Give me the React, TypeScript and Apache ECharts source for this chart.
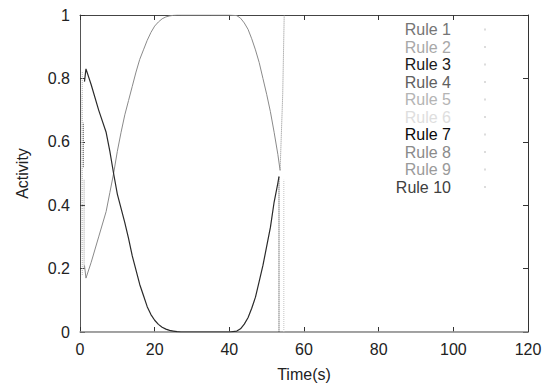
import React, { useEffect, useRef } from "react";
import * as echarts from "echarts";

const ruleNames = ["Rule 1", "Rule 2", "Rule 3", "Rule 4", "Rule 5", "Rule 6", "Rule 7", "Rule 8", "Rule 9", "Rule 10"];
const ruleColors = ["#757575", "#a8a8a8", "#1a1a1a", "#606060", "#b4b4b4", "#dedede", "#0a0a0a", "#8a8a8a", "#9a9a9a", "#404040"];

const xTicks = [0, 20, 40, 60, 80, 100, 120];
const yTicks = [0, 0.2, 0.4, 0.6, 0.8, 1];

// main simulation time points
const tMain = [1.2, 1.6, 3, 5, 7, 8, 9, 10, 11, 12, 13, 14, 15, 16, 17, 18, 19, 20, 21, 22, 23, 24, 25, 26, 27, 30, 35, 40, 42, 43, 44, 45, 46, 47, 48, 49, 50, 51, 52, 53];

// Rule 1: rising, saturated, then falling
const rule1Time = [...tMain, 53.6];
const rule1Vals = [0.21, 0.17, 0.22, 0.3, 0.38, 0.44, 0.5, 0.57, 0.63, 0.685, 0.73, 0.775, 0.82, 0.86, 0.89, 0.92, 0.945, 0.965, 0.978, 0.988, 0.994, 0.997, 0.999, 1, 1, 1, 1, 1, 0.998, 0.99, 0.975, 0.955, 0.925, 0.89, 0.85, 0.8, 0.75, 0.695, 0.63, 0.56, 0.51];

// Rule 3: falling, zero, then rising
const rule3Time = [...tMain, 53.3];
const rule3Vals = [0.79, 0.83, 0.78, 0.7, 0.63, 0.57, 0.5, 0.435, 0.39, 0.345, 0.295, 0.24, 0.195, 0.15, 0.115, 0.08, 0.055, 0.037, 0.024, 0.015, 0.009, 0.005, 0.003, 0.001, 0, 0, 0, 0, 0.003, 0.01, 0.025, 0.045, 0.075, 0.11, 0.16, 0.21, 0.27, 0.33, 0.41, 0.47, 0.49];

// short transients of the other rules
const rule2Time = [0.6, 0.6];
const rule2Vals = [0.18, 0.82];
const rule4Time = [0.9, 0.9];
const rule4Vals = [0.52, 0.66];
const rule5Time = [54.6, 54.6];
const rule5Vals = [0, 0.48];
const rule6Time = [0.4, 0.4];
const rule6Vals = [0.25, 0.75];
const rule7Time = [53.3, 53.3];
const rule7Vals = [0.49, 0];
const rule8Time = [53.6, 54.3, 54.7];
const rule8Vals = [0.51, 0.75, 1];
const rule9Time = [0, 120];
const rule9Vals = [0, 0];
const rule10Time = [1.1, 1.1];
const rule10Vals = [0.2, 0.48];

const ruleTimes = [rule1Time, rule2Time, rule3Time, rule4Time, rule5Time, rule6Time, rule7Time, rule8Time, rule9Time, rule10Time];
const ruleVals = [rule1Vals, rule2Vals, rule3Vals, rule4Vals, rule5Vals, rule6Vals, rule7Vals, rule8Vals, rule9Vals, rule10Vals];
const lineColors = ["#8a8a8a", "#b0b0b0", "#2a2a2a", "#555555", "#c4c4c4", "#d8d8d8", "#333333", "#8a8a8a", "#9a9a9a", "#999999"];
const lineWidths = [1, 1, 1.2, 1, 1, 1, 1, 1, 1.5, 1];
const lineTypes = ["solid", "dotted", "solid", "dotted", "dotted", "dotted", "dotted", "dotted", "solid", "dotted"];

const FONT = "'Liberation Sans', Arial, sans-serif";

export default function App() {
  const ref = useRef<HTMLDivElement>(null);
  useEffect(() => {
    if (!ref.current) return;
    const chart = echarts.init(ref.current, null, { renderer: "svg" });
    const axisCommon = {
      min: 0,
      axisTick: { show: true, inside: true, length: 5, lineStyle: { color: "#333" } },
      splitLine: { show: false },
    };
    chart.setOption({
      animation: false,
      backgroundColor: "#fff",
      textStyle: { fontFamily: FONT },
      grid: { left: 80, right: 18, top: 15, bottom: 54 },
      legend: {
        orient: "vertical",
        right: 60,
        top: 21.5,
        padding: 0,
        align: "right",
        itemGap: 1.5,
        itemWidth: 2,
        itemHeight: 2,
        icon: "rect",
        selectedMode: false,
        textStyle: { fontSize: 16, lineHeight: 15, fontFamily: FONT, padding: [0, 28, 0, 0] },
        data: ruleNames.map((n, i) => ({
          name: n,
          textStyle: { color: ruleColors[i] },
          itemStyle: { color: "#dcdcdc" },
        })),
      },
      xAxis: [
        {
          ...axisCommon,
          type: "value",
          max: 120,
          interval: 20,
          position: "bottom",
          name: "Time(s)",
          nameLocation: "middle",
          nameGap: 34,
          nameTextStyle: { fontSize: 16, color: "#222", fontFamily: FONT },
          axisLine: { show: true, onZero: false, lineStyle: { color: "#999", width: 1.5 } },
          axisLabel: { fontSize: 16, color: "#222", margin: 9, fontFamily: FONT, formatter: (v: number) => (xTicks.includes(v) ? String(v) : "") },
        },
        {
          ...axisCommon,
          type: "value",
          max: 120,
          interval: 20,
          position: "top",
          axisLine: { show: true, onZero: false, lineStyle: { color: "#444", width: 1 } },
          axisLabel: { show: false },
        },
      ],
      yAxis: [
        {
          ...axisCommon,
          type: "value",
          max: 1,
          interval: 0.2,
          position: "left",
          name: "Activity",
          nameLocation: "middle",
          nameGap: 50,
          nameRotate: 90,
          nameTextStyle: { fontSize: 16, color: "#222", fontFamily: FONT },
          axisLine: { show: true, onZero: false, lineStyle: { color: "#555", width: 1 } },
          axisLabel: { fontSize: 16, color: "#222", margin: 10, fontFamily: FONT, formatter: (v: number) => { const t = yTicks.find((y) => Math.abs(y - v) < 1e-9); return t === undefined ? "" : String(t); } },
        },
        {
          ...axisCommon,
          type: "value",
          max: 1,
          interval: 0.2,
          position: "right",
          axisLine: { show: true, onZero: false, lineStyle: { color: "#333", width: 1 } },
          axisLabel: { show: false },
        },
      ],
      series: ruleNames.map((n, i) => ({
        name: n,
        type: "line",
        xAxisIndex: 0,
        yAxisIndex: 0,
        showSymbol: false,
        symbol: "none",
        color: lineColors[i],
        lineStyle: { color: lineColors[i], width: lineWidths[i], type: lineTypes[i] },
        data: ruleTimes[i].map((t, j) => [t, ruleVals[i][j]]),
        z: i === 8 ? 1 : 2,
      })),
    });
    return () => chart.dispose();
  }, []);
  return <div ref={ref} style={{ width: 546, height: 387, position: "absolute", left: 0, top: 0 }} />;
}
